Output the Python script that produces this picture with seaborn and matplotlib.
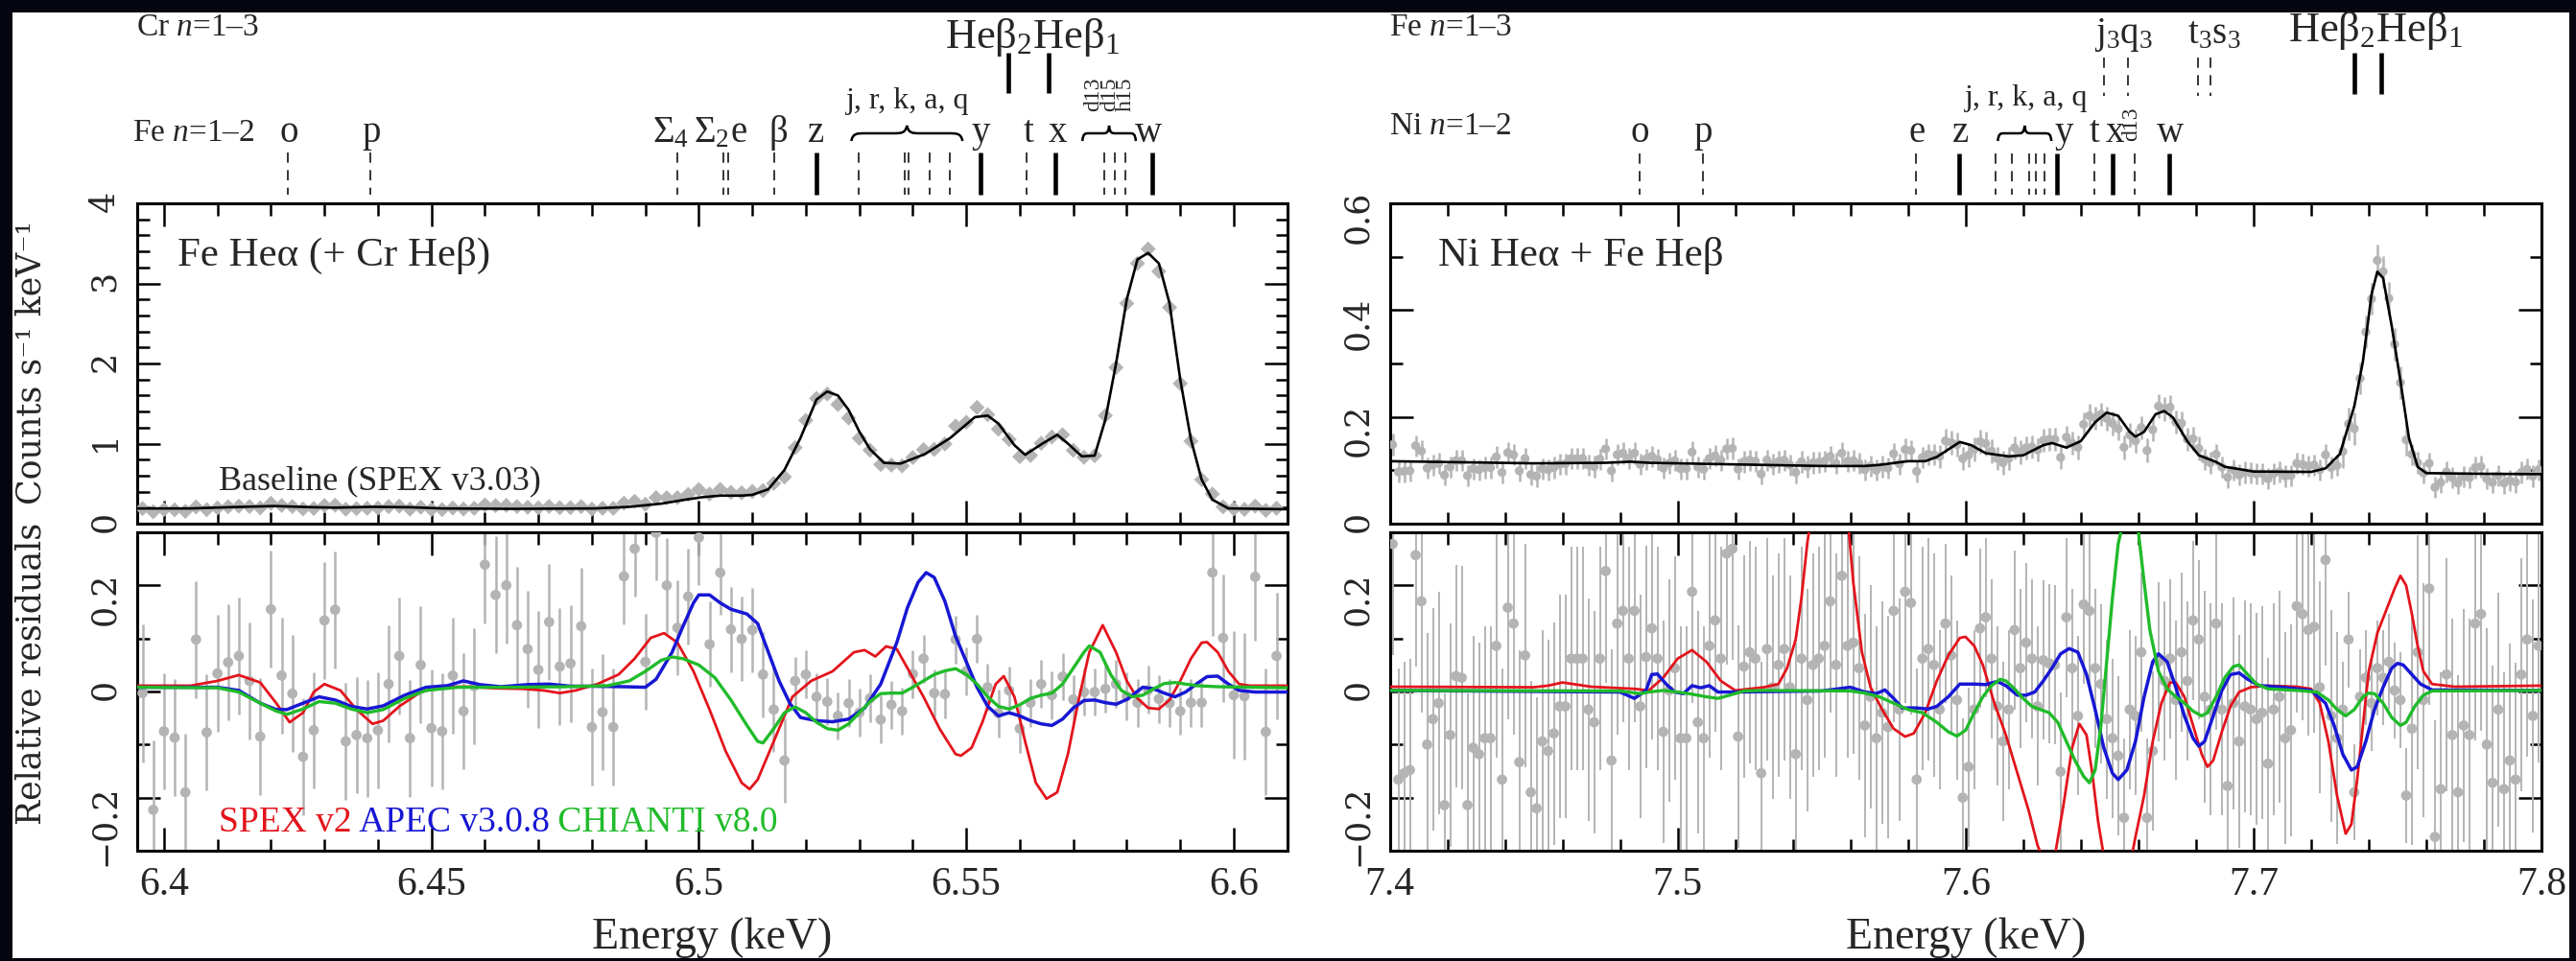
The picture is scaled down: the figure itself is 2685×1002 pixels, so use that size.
import numpy as np
import pandas as pd
import matplotlib
matplotlib.use("Agg")
import matplotlib.pyplot as plt
import matplotlib.transforms as mtransforms
from matplotlib.lines import Line2D
from matplotlib.patches import Rectangle, PathPatch
from matplotlib.path import Path
from matplotlib.ticker import MultipleLocator, FuncFormatter
import seaborn as sns

sns.set_theme(style="ticks")
plt.rcParams["font.family"] = ["Liberation Serif", "DejaVu Serif"]
plt.rcParams["mathtext.fontset"] = "custom"
plt.rcParams["mathtext.rm"] = "Liberation Serif"
plt.rcParams["mathtext.it"] = "Liberation Serif:italic"
plt.rcParams["mathtext.bf"] = "Liberation Serif:bold"

# ---------------- data: Fe He-alpha panel ----------------
fe_bin_start, fe_bin_width, fe_nbins = 6.396, 0.002, 107
fe_counts = [0.189, 0.148, 0.176, 0.173, 0.154, 0.209, 0.175, 0.196, 0.211, 0.219,
             0.214, 0.197, 0.254, 0.227, 0.214, 0.184, 0.190, 0.227, 0.231, 0.181,
             0.188, 0.192, 0.195, 0.213, 0.219, 0.182, 0.205, 0.177, 0.176, 0.196,
             0.183, 0.192, 0.235, 0.225, 0.228, 0.214, 0.205, 0.198, 0.215, 0.199,
             0.200, 0.213, 0.182, 0.192, 0.191, 0.256, 0.279, 0.243, 0.325, 0.324,
             0.325, 0.365, 0.426, 0.370, 0.428, 0.391, 0.385, 0.402, 0.413, 0.502,
             0.583, 0.949, 1.290, 1.564, 1.619, 1.488, 1.320, 1.066, 0.918, 0.739,
             0.731, 0.722, 0.826, 0.924, 0.927, 0.995, 1.219, 1.266, 1.451, 1.361,
             1.180, 1.052, 0.837, 0.852, 1.004, 1.082, 1.110, 0.916, 0.829, 0.849,
             1.350, 1.950, 2.750, 3.250, 3.430, 3.150, 2.700, 1.750, 1.030, 0.550,
             0.370, 0.210, 0.185, 0.178, 0.219, 0.166, 0.192]
fe_counts_err = [0.018] * 45 + [0.025] * 8 + [0.03] * 8 + [0.05] * 39 + [0.02] * 7
fe_resid = [-0.003, -0.223, -0.075, -0.087, -0.190, 0.098, -0.077, 0.034, 0.055, 0.067,
            0.020, -0.085, 0.155, 0.030, -0.004, -0.123, -0.073, 0.134, 0.154, -0.094,
            -0.082, -0.088, -0.073, 0.014, 0.067, -0.088, 0.050, -0.069, -0.075, 0.030,
            -0.037, 0.010, 0.239, 0.182, 0.200, 0.125, 0.080, 0.041, 0.131, 0.047,
            0.053, 0.123, -0.067, -0.039, -0.067, 0.217, 0.269, 0.056, 0.299, 0.200,
            0.120, 0.179, 0.290, 0.089, 0.224, 0.117, 0.099, 0.116, 0.032, -0.034,
            -0.130, 0.020, 0.032, -0.010, -0.019, -0.046, -0.022, -0.040, -0.013, -0.053,
            -0.025, -0.037, 0.033, 0.062, -0.003, -0.005, 0.098, 0.038, 0.099, 0.008,
            -0.041, 0.002, -0.070, -0.021, 0.014, -0.007, 0.028, -0.015, -0.001, -0.001,
            0.005, 0.014, -0.009, -0.021, 0.003, -0.014, -0.022, -0.037, -0.021, -0.021,
            0.224, 0.101, -0.007, -0.009, 0.216, -0.076, 0.067]
fe_resid_err = [0.13] * 2 + [0.11] * 43 + [0.09] * 8 + [0.08] * 8 + [0.045] * 39 + [0.12] * 7

fe_model_E = [6.395, 6.405, 6.412, 6.4205, 6.428, 6.432, 6.439, 6.446, 6.452, 6.465,
              6.4806, 6.487, 6.493, 6.4975, 6.5006, 6.504, 6.508, 6.510, 6.513, 6.516,
              6.519, 6.522, 6.524, 6.526, 6.528, 6.530, 6.532, 6.5346, 6.5377, 6.5423,
              6.547, 6.5516, 6.554, 6.556, 6.559, 6.561, 6.564, 6.567, 6.569, 6.5716,
              6.574, 6.576, 6.578, 6.580, 6.582, 6.584, 6.586, 6.588, 6.590, 6.592,
              6.594, 6.596, 6.599, 6.61]
fe_model_y = [0.19, 0.19, 0.205, 0.22, 0.205, 0.20, 0.21, 0.205, 0.19, 0.185,
              0.19, 0.21, 0.25, 0.30, 0.33, 0.35, 0.35, 0.36, 0.43, 0.67,
              1.07, 1.55, 1.65, 1.60, 1.42, 1.15, 0.93, 0.76, 0.75, 0.87,
              1.07, 1.33, 1.35, 1.25, 0.98, 0.86, 0.99, 1.11, 1.00, 0.84,
              0.85, 1.30, 2.00, 2.80, 3.30, 3.38, 3.25, 2.75, 1.80, 1.05,
              0.55, 0.30, 0.19, 0.18]

spex_fe_E = [6.395, 6.405, 6.41, 6.414, 6.418, 6.421, 6.4235, 6.426, 6.428, 6.43,
             6.433, 6.436, 6.439, 6.441, 6.444, 6.448, 6.452, 6.457, 6.462, 6.467,
             6.471, 6.474, 6.477, 6.481, 6.485, 6.488, 6.491, 6.4935, 6.496, 6.499,
             6.502, 6.505, 6.508, 6.5095, 6.511, 6.514, 6.5175, 6.521, 6.525, 6.529,
             6.531, 6.533, 6.535, 6.537, 6.539, 6.542, 6.545, 6.548, 6.549, 6.551,
             6.553, 6.5555, 6.557, 6.559, 6.561, 6.563, 6.565, 6.567, 6.569, 6.571,
             6.573, 6.5755, 6.578, 6.58, 6.582, 6.584, 6.586, 6.588, 6.59, 6.592,
             6.594, 6.595, 6.597, 6.599, 6.601, 6.603, 6.61]
spex_fe_r = [0.011, 0.011, 0.02, 0.031, 0.017, -0.022, -0.058, -0.04, -0.001, 0.014,
             0.002, -0.034, -0.061, -0.055, -0.028, -0.001, 0.009, 0.009, 0.006, 0.005,
             0.002, -0.003, 0.002, 0.014, 0.032, 0.062, 0.101, 0.11, 0.092, 0.038,
             -0.034, -0.112, -0.172, -0.184, -0.166, -0.094, -0.01, 0.02, 0.038, 0.074,
             0.078, 0.066, 0.085, 0.08, 0.044, -0.01, -0.07, -0.118, -0.121, -0.106,
             -0.058, 0.014, 0.029, -0.01, -0.094, -0.172, -0.202, -0.19, -0.118, -0.016,
             0.074, 0.125, 0.074, 0.02, -0.013, -0.031, -0.033, -0.016, 0.02, 0.062,
             0.092, 0.093, 0.074, 0.038, 0.014, 0.011, 0.011]
apec_fe_E = [6.395, 6.41, 6.414, 6.418, 6.421, 6.423, 6.426, 6.429, 6.432, 6.435,
             6.438, 6.441, 6.445, 6.449, 6.453, 6.456, 6.459, 6.463, 6.468, 6.472,
             6.476, 6.48, 6.486, 6.49, 6.492, 6.495, 6.497, 6.499, 6.5, 6.502,
             6.504, 6.506, 6.508, 6.509, 6.511, 6.513, 6.515, 6.517, 6.519, 6.522,
             6.525, 6.528, 6.531, 6.534, 6.537, 6.539, 6.541, 6.5425, 6.544, 6.546,
             6.548, 6.55, 6.552, 6.554, 6.556, 6.558, 6.56, 6.562, 6.564, 6.566,
             6.568, 6.57, 6.572, 6.574, 6.576, 6.578, 6.58, 6.583, 6.585, 6.587,
             6.589, 6.591, 6.593, 6.595, 6.597, 6.599, 6.601, 6.604, 6.61]
apec_fe_r = [0.008, 0.008, 0.002, -0.022, -0.034, -0.034, -0.022, -0.01, -0.016, -0.028,
             -0.033, -0.027, -0.007, 0.008, 0.011, 0.02, 0.013, 0.009, 0.013, 0.014,
             0.01, 0.01, 0.009, 0.008, 0.023, 0.074, 0.122, 0.167, 0.182, 0.182,
             0.167, 0.155, 0.149, 0.146, 0.128, 0.074, 0.02, -0.022, -0.049, -0.055,
             -0.057, -0.052, -0.031, 0.014, 0.092, 0.158, 0.206, 0.224, 0.215, 0.17,
             0.104, 0.056, 0.008, -0.028, -0.046, -0.04, -0.046, -0.055, -0.061, -0.064,
             -0.052, -0.031, -0.017, -0.016, -0.021, -0.024, -0.015, 0.008, 0.005, -0.003,
             -0.01, -0.001, 0.014, 0.028, 0.029, 0.014, 0.002, -0.001, -0.001]
chianti_fe_E = [6.395, 6.41, 6.414, 6.418, 6.421, 6.423, 6.426, 6.429, 6.432, 6.435,
                6.438, 6.441, 6.445, 6.449, 6.455, 6.465, 6.475, 6.483, 6.487, 6.49,
                6.493, 6.495, 6.497, 6.5, 6.503, 6.506, 6.509, 6.511, 6.512, 6.514,
                6.516, 6.518, 6.52, 6.522, 6.524, 6.526, 6.528, 6.53, 6.532, 6.534,
                6.536, 6.538, 6.54, 6.542, 6.544, 6.546, 6.548, 6.55, 6.552, 6.554,
                6.556, 6.558, 6.56, 6.562, 6.564, 6.566, 6.568, 6.57, 6.572, 6.573,
                6.575, 6.577, 6.579, 6.581, 6.583, 6.585, 6.587, 6.589, 6.591, 6.593,
                6.597, 6.61]
chianti_fe_r = [0.008, 0.007, -0.001, -0.022, -0.037, -0.043, -0.033, -0.019, -0.022, -0.033,
                -0.04, -0.034, -0.013, 0.002, 0.008, 0.008, 0.009, 0.011, 0.02, 0.038,
                0.059, 0.065, 0.062, 0.05, 0.026, -0.016, -0.064, -0.094, -0.097, -0.07,
                -0.04, -0.029, -0.04, -0.058, -0.07, -0.073, -0.061, -0.04, -0.019, -0.004,
                -0.003, -0.003, 0.008, 0.02, 0.032, 0.039, 0.043, 0.032, 0.014, -0.01,
                -0.028, -0.033, -0.025, -0.013, -0.007, -0.003, 0.014, 0.044, 0.074, 0.086,
                0.074, 0.032, 0.002, -0.01, -0.007, 0.005, 0.015, 0.017, 0.014, 0.011,
                0.009, 0.007]

# ---------------- data: Ni He-alpha panel ----------------
ni_bin_start, ni_bin_width, ni_nbins = 7.401, 0.002, 200
ni_counts = [0.148, 0.097, 0.098, 0.099, 0.146, 0.136, 0.104, 0.110, 0.113, 0.091,
             0.106, 0.118, 0.118, 0.090, 0.103, 0.101, 0.105, 0.105, 0.125, 0.096,
             0.133, 0.129, 0.099, 0.122, 0.092, 0.089, 0.103, 0.101, 0.105, 0.111,
             0.112, 0.122, 0.122, 0.122, 0.110, 0.107, 0.121, 0.140, 0.099, 0.129,
             0.132, 0.122, 0.132, 0.111, 0.121, 0.126, 0.120, 0.104, 0.113, 0.118,
             0.103, 0.103, 0.134, 0.106, 0.102, 0.122, 0.127, 0.119, 0.140, 0.141,
             0.102, 0.116, 0.119, 0.117, 0.093, 0.119, 0.111, 0.116, 0.119, 0.110,
             0.096, 0.116, 0.107, 0.114, 0.115, 0.117, 0.126, 0.113, 0.132, 0.117,
             0.118, 0.113, 0.101, 0.108, 0.100, 0.107, 0.104, 0.131, 0.112, 0.139,
             0.137, 0.098, 0.124, 0.130, 0.129, 0.126, 0.155, 0.152, 0.148, 0.122,
             0.128, 0.139, 0.154, 0.150, 0.136, 0.122, 0.114, 0.122, 0.142, 0.134,
             0.142, 0.144, 0.138, 0.156, 0.158, 0.158, 0.124, 0.162, 0.151, 0.143,
             0.186, 0.202, 0.198, 0.205, 0.197, 0.188, 0.178, 0.143, 0.166, 0.155,
             0.180, 0.137, 0.176, 0.220, 0.215, 0.218, 0.190, 0.188, 0.158, 0.159,
             0.141, 0.121, 0.114, 0.130, 0.106, 0.087, 0.101, 0.091, 0.096, 0.095,
             0.093, 0.094, 0.084, 0.094, 0.097, 0.089, 0.090, 0.113, 0.111, 0.108,
             0.110, 0.101, 0.129, 0.105, 0.109, 0.135, 0.187, 0.178, 0.272, 0.359,
             0.421, 0.493, 0.472, 0.422, 0.336, 0.264, 0.157, 0.130, 0.114, 0.095,
             0.113, 0.068, 0.077, 0.097, 0.086, 0.076, 0.088, 0.086, 0.105, 0.107,
             0.084, 0.077, 0.090, 0.076, 0.081, 0.078, 0.096, 0.102, 0.089, 0.101]
ni_counts_err = [0.02] * 95 + [0.022] * 46 + [0.02] * 24 + [0.03] * 12 + [0.02] * 23
ni_resid = [0.278, -0.166, -0.154, -0.148, 0.257, 0.17, -0.1, -0.052, -0.022, -0.214,
            -0.082, 0.029, 0.026, -0.214, -0.106, -0.118, -0.088, -0.088, 0.086, -0.166,
            0.158, 0.128, -0.133, 0.068, -0.19, -0.22, -0.094, -0.112, -0.079, -0.028,
            -0.028, 0.062, 0.062, 0.062, -0.034, -0.058, 0.062, 0.227, -0.13, 0.128,
            0.152, 0.062, 0.152, -0.028, 0.065, 0.119, 0.062, -0.076, 0.002, 0.044,
            -0.088, -0.088, 0.188, -0.058, -0.088, 0.086, 0.134, 0.062, 0.26, 0.269,
            -0.085, 0.047, 0.074, 0.062, -0.154, 0.08, 0.008, 0.05, 0.08, 0.008,
            -0.118, 0.062, -0.016, 0.05, 0.062, 0.086, 0.17, 0.05, 0.218, 0.086,
            0.092, 0.044, -0.064, -0.01, -0.088, -0.04, -0.067, 0.152, -0.034, 0.188,
            0.167, -0.166, 0.062, 0.08, 0.05, -0.034, 0.128, 0.068, -0.016, -0.2,
            -0.142, -0.034, 0.119, 0.14, 0.062, -0.028, -0.094, -0.034, 0.116, 0.044,
            0.092, 0.062, -0.028, 0.059, 0.053, 0.05, -0.151, 0.14, 0.044, -0.046,
            0.164, 0.152, 0.044, 0.014, -0.052, -0.088, -0.121, -0.238, -0.034, -0.046,
            0.074, -0.238, -0.112, 0.056, 0.02, 0.062, -0.016, 0.074, 0.02, 0.134,
            0.098, -0.01, -0.034, 0.128, -0.034, -0.178, -0.022, -0.094, -0.028, -0.034,
            -0.052, -0.04, -0.136, -0.034, -0.01, -0.088, -0.073, 0.161, 0.146, 0.116,
            0.122, 0.008, 0.248, -0.046, -0.088, -0.034, 0.098, -0.19, -0.01, 0.026,
            -0.022, 0.044, 0.026, 0.056, 0.002, -0.016, -0.196, -0.07, 0.074, -0.016,
            0.194, -0.274, -0.184, 0.032, -0.082, -0.19, -0.064, -0.082, 0.128, 0.146,
            -0.1, -0.172, -0.034, -0.184, -0.13, -0.166, 0.032, 0.098, -0.046, 0.086]
ni_resid_err = [0.21] * 95 + [0.15] * 46 + [0.2] * 24 + [0.09] * 12 + [0.22] * 23

ni_model_E = [7.40, 7.45, 7.475, 7.4835, 7.49, 7.50, 7.52, 7.55, 7.565, 7.57,
              7.58, 7.586, 7.59, 7.595, 7.598, 7.602, 7.607, 7.615, 7.62, 7.627,
              7.63, 7.635, 7.64, 7.645, 7.649, 7.653, 7.657, 7.659, 7.662, 7.666,
              7.669, 7.672, 7.677, 7.681, 7.687, 7.69, 7.70, 7.72, 7.725, 7.73,
              7.735, 7.738, 7.741, 7.743, 7.745, 7.748, 7.751, 7.754, 7.757, 7.76,
              7.78, 7.80]
ni_model_y = [0.117, 0.113, 0.114, 0.116, 0.114, 0.113, 0.111, 0.108, 0.108, 0.110,
              0.117, 0.117, 0.125, 0.1425, 0.153, 0.147, 0.132, 0.126, 0.128, 0.147,
              0.151, 0.1425, 0.1545, 0.19, 0.208, 0.202, 0.172, 0.163, 0.172, 0.205,
              0.211, 0.199, 0.1545, 0.128, 0.1156, 0.1066, 0.0976, 0.097, 0.1036, 0.1305,
              0.22, 0.304, 0.43, 0.472, 0.46, 0.37, 0.268, 0.16, 0.1066, 0.0946,
              0.0934, 0.0928]

spex_ni_E = [7.40, 7.45, 7.455, 7.46, 7.465, 7.47, 7.485, 7.49, 7.495, 7.5,
             7.505, 7.51, 7.515, 7.52, 7.525, 7.53, 7.535, 7.538, 7.541, 7.543,
             7.545, 7.548, 7.552, 7.556, 7.559, 7.561, 7.564, 7.567, 7.571, 7.575,
             7.579, 7.582, 7.586, 7.59, 7.594, 7.598, 7.6, 7.603, 7.606, 7.61,
             7.614, 7.618, 7.622, 7.625, 7.628, 7.631, 7.634, 7.637, 7.6395, 7.642,
             7.644, 7.646, 7.648, 7.65, 7.654, 7.657, 7.659, 7.662, 7.665, 7.668,
             7.671, 7.673, 7.676, 7.679, 7.682, 7.684, 7.686, 7.689, 7.692, 7.695,
             7.699, 7.705, 7.715, 7.72, 7.723, 7.726, 7.729, 7.732, 7.734, 7.736,
             7.738, 7.74, 7.743, 7.746, 7.749, 7.751, 7.753, 7.755, 7.757, 7.759,
             7.762, 7.77, 7.8]
spex_ni_r = [0.009, 0.008, 0.011, 0.017, 0.013, 0.009, 0.005, 0.002, 0.026, 0.062,
             0.078, 0.056, 0.02, 0.002, 0.005, 0.008, 0.014, 0.044, 0.098, 0.176,
             0.278, 0.39, 0.42, 0.37, 0.33, 0.206, 0.074, 0.008, -0.034, -0.07,
             -0.085, -0.079, -0.04, 0.02, 0.068, 0.101, 0.103, 0.086, 0.05, -0.022,
             -0.082, -0.154, -0.226, -0.29, -0.33, -0.31, -0.214, -0.106, -0.061, -0.082,
             -0.154, -0.244, -0.31, -0.36, -0.39, -0.33, -0.274, -0.196, -0.094, -0.022,
             0.017, 0.017, -0.01, -0.064, -0.118, -0.142, -0.13, -0.076, -0.028, -0.001,
             0.008, 0.011, 0.009, 0.005, -0.022, -0.094, -0.196, -0.268, -0.25, -0.166,
             -0.064, 0.038, 0.11, 0.152, 0.194, 0.218, 0.2, 0.146, 0.086, 0.038,
             0.014, 0.009, 0.011]
apec_ni_E = [7.40, 7.48, 7.485, 7.489, 7.491, 7.493, 7.496, 7.499, 7.502, 7.505,
             7.508, 7.511, 7.514, 7.52, 7.55, 7.56, 7.565, 7.569, 7.572, 7.575,
             7.578, 7.583, 7.587, 7.59, 7.594, 7.598, 7.603, 7.607, 7.611, 7.614,
             7.618, 7.621, 7.624, 7.627, 7.63, 7.633, 7.636, 7.639, 7.642, 7.645,
             7.648, 7.651, 7.653, 7.656, 7.659, 7.662, 7.665, 7.667, 7.67, 7.673,
             7.676, 7.679, 7.681, 7.683, 7.686, 7.689, 7.692, 7.695, 7.698, 7.702,
             7.71, 7.72, 7.725, 7.728, 7.731, 7.734, 7.736, 7.739, 7.742, 7.745,
             7.748, 7.75, 7.752, 7.755, 7.758, 7.762, 7.8]
apec_ni_r = [0.002, -0.001, -0.013, 0.002, 0.032, 0.033, 0.014, -0.001, -0.004, 0.011,
             0.007, 0.011, -0.001, -0.001, 0.001, 0.008, -0.001, -0.004, 0.003, -0.013,
             -0.031, -0.031, -0.033, -0.028, -0.01, 0.014, 0.014, 0.013, 0.019, 0.011,
             -0.007, -0.007, -0.001, 0.02, 0.044, 0.071, 0.081, 0.074, 0.032, -0.034,
             -0.106, -0.154, -0.166, -0.148, -0.094, -0.01, 0.056, 0.071, 0.056, 0.008,
             -0.046, -0.088, -0.103, -0.094, -0.046, 0.002, 0.032, 0.035, 0.023, 0.011,
             0.008, 0.002, -0.022, -0.064, -0.118, -0.148, -0.142, -0.094, -0.034, 0.008,
             0.044, 0.053, 0.05, 0.032, 0.014, 0.003, 0.002]
chianti_ni_E = [7.40, 7.48, 7.487, 7.49, 7.495, 7.5, 7.505, 7.51, 7.514, 7.518,
                7.523, 7.53, 7.56, 7.565, 7.57, 7.575, 7.58, 7.585, 7.59, 7.594,
                7.597, 7.6, 7.603, 7.606, 7.609, 7.612, 7.614, 7.617, 7.62, 7.623,
                7.626, 7.629, 7.632, 7.635, 7.638, 7.641, 7.643, 7.645, 7.647, 7.649,
                7.651, 7.653, 7.655, 7.658, 7.66, 7.662, 7.664, 7.667, 7.67, 7.673,
                7.676, 7.679, 7.682, 7.684, 7.687, 7.69, 7.693, 7.695, 7.698, 7.701,
                7.705, 7.715, 7.722, 7.726, 7.729, 7.732, 7.735, 7.738, 7.74, 7.742,
                7.745, 7.748, 7.751, 7.753, 7.756, 7.759, 7.762, 7.8]
chianti_ni_r = [0.002, 0.001, -0.004, -0.001, 0.002, -0.001, -0.005, -0.01, -0.013, -0.007,
                0.001, 0.002, 0.001, -0.003, -0.01, -0.022, -0.034, -0.04, -0.058, -0.076,
                -0.084, -0.073, -0.04, -0.01, 0.011, 0.023, 0.02, 0.005, -0.013, -0.028,
                -0.034, -0.04, -0.058, -0.094, -0.13, -0.16, -0.172, -0.148, -0.064, 0.056,
                0.176, 0.278, 0.326, 0.338, 0.302, 0.206, 0.116, 0.038, 0.005, -0.01,
                -0.022, -0.037, -0.046, -0.04, -0.01, 0.026, 0.047, 0.05, 0.032, 0.014,
                0.005, 0.002, -0.001, -0.016, -0.034, -0.046, -0.034, -0.01, -0.003, -0.004,
                -0.022, -0.049, -0.064, -0.058, -0.028, -0.007, 0.001, 0.002]

# ---------------- line identifications ----------------
fe_line_E = [6.4232, 6.4386, 6.4960, 6.5046, 6.5055, 6.5141, 6.5219, 6.5299, 6.5385, 6.5392,
             6.5431, 6.5470, 6.5527, 6.5613, 6.5667, 6.5758, 6.5778, 6.5798, 6.5848]
fe_line_kind = ["d", "d", "d", "d", "d", "d", "s", "d", "d", "d",
                "d", "d", "s", "d", "s", "d", "d", "d", "s"]
fe_label_text = ["o", "p", "Σ$_\\mathrm{4}$", "Σ$_\\mathrm{2}$", "e", "β", "z", "y", "t", "x", "w"]
fe_label_E = [6.4234, 6.4388, 6.4947, 6.5023, 6.5075, 6.5148, 6.5219, 6.5527, 6.5616, 6.5670, 6.5840]
cr_heb_E = [6.5578, 6.5654]

ni_line_E = [7.4869, 7.5088, 7.5828, 7.5976, 7.6104, 7.6160, 7.6220, 7.6245, 7.6274, 7.6319,
             7.6447, 7.6509, 7.6586, 7.6708]
ni_line_kind = ["d", "d", "d", "s", "d", "d", "d", "d", "d", "s", "d", "s", "d", "s"]
ni_label_text = ["o", "p", "e", "z", "y", "t", "x", "w"]
ni_label_E = [7.4869, 7.5088, 7.5832, 7.5984, 7.6340, 7.6447, 7.6517, 7.6711]
fe13_line_E = [7.6482, 7.6565, 7.6806, 7.6849]
fe_heb_E = [7.7351, 7.7445]

GRAY = "#b4b4b4"
RED, BLUE, GREEN = "#e3141c", "#1717d4", "#20bb2a"

# ---------------- figure ----------------
W, H = 2685, 1002
fig = plt.figure(figsize=(W / 100, H / 100), dpi=100)
fig.patch.set_facecolor("#05050f")
fig.add_artist(Rectangle((13 / W, 3 / H), (2678 - 13) / W, (H - 16) / H,
                         transform=fig.transFigure, facecolor="white",
                         edgecolor="none", zorder=-10))


def fx(px):
    return px / W


def fy(py):
    return 1 - py / H


axUL = fig.add_axes([fx(143), fy(546), fx(1341.7) - fx(143), fy(212) - fy(546)])
axLL = fig.add_axes([fx(143), fy(887), fx(1341.7) - fx(143), fy(555) - fy(887)])
axUR = fig.add_axes([fx(1448.5), fy(546), fx(2649) - fx(1448.5), fy(212) - fy(546)])
axLR = fig.add_axes([fx(1448.5), fy(887), fx(2649) - fx(1448.5), fy(555) - fy(887)])

E_fe = np.round(fe_bin_start + fe_bin_width * np.arange(fe_nbins), 4)
E_ni = np.round(ni_bin_start + ni_bin_width * np.arange(ni_nbins), 4)

df_fe = pd.DataFrame({"E": E_fe, "counts": fe_counts, "cerr": fe_counts_err,
                      "resid": fe_resid, "rerr": fe_resid_err})
df_ni = pd.DataFrame({"E": E_ni, "counts": ni_counts, "cerr": ni_counts_err,
                      "resid": ni_resid, "rerr": ni_resid_err})

# upper panels
for ax, df, mE, my, mk, ms in [(axUL, df_fe, fe_model_E, fe_model_y, "D", 65),
                               (axUR, df_ni, ni_model_E, ni_model_y, "o", 45)]:
    ax.errorbar(df["E"], df["counts"], yerr=df["cerr"], fmt="none",
                ecolor=GRAY, elinewidth=1.8, zorder=2)
    sns.scatterplot(data=df, x="E", y="counts", marker=mk, s=ms, color=GRAY,
                    edgecolor="none", ax=ax, zorder=3, legend=False)
    sns.lineplot(x=mE, y=my, color="black", lw=1.9, ax=ax, zorder=4,
                 estimator=None, legend=False)

# lower panels
for ax, df, ew, curves in [(axLL, df_fe, 1.8, [(spex_fe_E, spex_fe_r, RED, 2.0),
                                              (apec_fe_E, apec_fe_r, BLUE, 2.5),
                                              (chianti_fe_E, chianti_fe_r, GREEN, 2.4)]),
                           (axLR, df_ni, 1.4, [(spex_ni_E, spex_ni_r, RED, 2.0),
                                              (apec_ni_E, apec_ni_r, BLUE, 2.5),
                                              (chianti_ni_E, chianti_ni_r, GREEN, 2.4)])]:
    ax.errorbar(df["E"], df["resid"], yerr=df["rerr"], fmt="none",
                ecolor=GRAY, elinewidth=ew, zorder=2)
    sns.scatterplot(data=df, x="E", y="resid", marker="o", s=60, color=GRAY,
                    edgecolor="none", ax=ax, zorder=3, legend=False)
    for cE, cr, col, lw in curves:
        sns.lineplot(x=cE, y=cr, color=col, lw=lw, ax=ax, zorder=5,
                     estimator=None, legend=False)


def yfmt(v, p):
    if abs(v) < 1e-9:
        return "0"
    return ("%g" % v).replace("-", "\u2212")


def style(ax, xlim, ylim, xmaj, xmin, ymaj, ymin, xlabels):
    ax.set_xlim(*xlim)
    ax.set_ylim(*ylim)
    ax.set_facecolor("white")
    ax.xaxis.set_major_locator(MultipleLocator(xmaj))
    ax.xaxis.set_minor_locator(MultipleLocator(xmin))
    ax.yaxis.set_major_locator(MultipleLocator(ymaj))
    ax.yaxis.set_minor_locator(MultipleLocator(ymin))
    ax.yaxis.set_major_formatter(FuncFormatter(yfmt))
    ax.xaxis.set_major_formatter(FuncFormatter(lambda v, p: "%g" % round(v, 3)))
    ax.tick_params(which="both", direction="in", top=True, right=True,
                   width=1.8, color="black")
    ax.tick_params(which="major", length=17)
    ax.tick_params(which="minor", length=9)
    ax.tick_params(axis="x", labelsize=30, pad=12, labelbottom=xlabels)
    ax.tick_params(axis="y", labelsize=25, pad=12, labelrotation=90,
                   labelfontfamily="DejaVu Serif")
    for sp in ax.spines.values():
        sp.set_linewidth(2.2)
        sp.set_color("black")
    ax.set_xlabel("")
    ax.set_ylabel("")
    if xlabels:
        ax.set_xlabel("Energy (keV)", fontsize=33, labelpad=10)


style(axUL, (6.395, 6.61), (0, 4), 0.05, 0.01, 1, 0.2, False)
style(axLL, (6.395, 6.61), (-0.3, 0.3), 0.05, 0.01, 0.2, 0.1, True)
style(axUR, (7.4, 7.8), (0, 0.6), 0.1, 0.02, 0.2, 0.1, False)
style(axLR, (7.4, 7.8), (-0.3, 0.3), 0.1, 0.02, 0.2, 0.1, True)

# y labels
fig.text(fx(33), fy(378), "Counts s\u207b\u00b9 keV\u207b\u00b9", rotation=90,
         ha="center", va="center", fontsize=25, family="DejaVu Serif")
fig.text(fx(33), fy(702), "Relative residuals", rotation=90,
         ha="center", va="center", fontsize=25, family="DejaVu Serif")

# in-panel texts
fig.text(fx(185), fy(277), "Fe Heα (+ Cr Heβ)", fontsize=31, va="baseline")
fig.text(fx(228), fy(510), "Baseline (SPEX v3.03)", fontsize=26, va="baseline")
fig.text(fx(1499), fy(277), "Ni Heα + Fe Heβ", fontsize=31, va="baseline")
t1 = fig.text(fx(228), fy(867), "SPEX v2", fontsize=27, va="baseline", color=RED)
t2 = axLL.annotate(" APEC v3.0.8", xy=(1, 0), xycoords=t1, fontsize=27,
                   va="bottom", ha="left", color=BLUE)
t3 = axLL.annotate(" CHIANTI v8.0", xy=(1, 0), xycoords=t2, fontsize=27,
                   va="bottom", ha="left", color=GREEN)


# ---------------- annotation helpers ----------------
def btr(ax):
    return mtransforms.blended_transform_factory(ax.transData, fig.transFigure)


def marks(ax, Es, kinds, y0, y1):
    tr = btr(ax)
    for E, k in zip(Es, kinds):
        if k == "s":
            ln = Line2D([E, E], [fy(y0), fy(y1)], transform=tr, color="black",
                        lw=3.3, solid_capstyle="butt")
        else:
            ln = Line2D([E, E], [fy(y0), fy(y1)], transform=tr, color="black",
                        lw=1.1, ls=(0, (7, 5)))
        fig.add_artist(ln)


def labels(ax, Es, texts, py, size, **kw):
    tr = btr(ax)
    for E, s in zip(Es, texts):
        fig.text(E, fy(py), s, transform=tr, fontsize=size, ha="center",
                 va="baseline", **kw)


def brace(ax, x0, x1, y_end, y_mid, y_tip):
    tr = btr(ax)
    w = (x1 - x0) / 2.0
    xm = x0 + w
    ye, ym, yt = fy(y_end), fy(y_mid), fy(y_tip)
    verts = [(x0, ye),
             (x0 + 0.03 * w, ym), (x0 + 0.1 * w, ym), (x0 + 0.25 * w, ym),
             (xm - 0.25 * w, ym),
             (xm - 0.1 * w, ym), (xm - 0.03 * w, ym), (xm, yt),
             (xm + 0.03 * w, ym), (xm + 0.1 * w, ym), (xm + 0.25 * w, ym),
             (x1 - 0.25 * w, ym),
             (x1 - 0.1 * w, ym), (x1 - 0.03 * w, ym), (x1, ye)]
    codes = [Path.MOVETO, Path.CURVE4, Path.CURVE4, Path.CURVE4, Path.LINETO,
             Path.CURVE4, Path.CURVE4, Path.CURVE4, Path.CURVE4, Path.CURVE4,
             Path.CURVE4, Path.LINETO, Path.CURVE4, Path.CURVE4, Path.CURVE4]
    fig.add_artist(PathPatch(Path(verts, codes), transform=tr, facecolor="none",
                             edgecolor="black", lw=1.8))


# left annotations
fig.text(fx(142), fy(37), "Cr $\\mathit{n}$=1–3", fontsize=24, va="baseline")
fig.text(fx(138), fy(147), "Fe $\\mathit{n}$=1–2", fontsize=24, va="baseline")
marks(axUL, fe_line_E, fe_line_kind, 159, 203)
marks(axUL, cr_heb_E, ["s", "s"], 55, 97)
labels(axUL, fe_label_E, fe_label_text, 148, 28)
labels(axUL, [6.5624], ["Heβ$_\\mathrm{2}$Heβ$_\\mathrm{1}$"], 50, 32)
labels(axUL, [6.5390], ["j, r, k, a, q"], 113, 23)
brace(axUL, 6.5285, 6.5493, 147, 139, 131)
brace(axUL, 6.5717, 6.5817, 147, 139, 131)
for E, s in zip([6.5737, 6.5768, 6.5798], ["d13", "d15", "h15"]):
    fig.text(E, fy(98), s, transform=btr(axUL), fontsize=17, rotation=90,
             ha="center", va="center")

# right annotations
fig.text(fx(1448), fy(37), "Fe $\\mathit{n}$=1–3", fontsize=24, va="baseline")
fig.text(fx(1448), fy(140), "Ni $\\mathit{n}$=1–2", fontsize=24, va="baseline")
marks(axUR, ni_line_E, ni_line_kind, 160, 203)
marks(axUR, fe13_line_E, ["d"] * 4, 60, 100)
marks(axUR, fe_heb_E, ["s", "s"], 55, 98)
labels(axUR, ni_label_E, ni_label_text, 148, 28)
labels(axUR, [7.6550], ["j$_\\mathrm{3}$q$_\\mathrm{3}$"], 45, 28)
labels(axUR, [7.6863], ["t$_\\mathrm{3}$s$_\\mathrm{3}$"], 45, 28)
labels(axUR, [7.7424], ["Heβ$_\\mathrm{2}$Heβ$_\\mathrm{1}$"], 43, 32)
labels(axUR, [7.6211], ["j, r, k, a, q"], 110, 23)
brace(axUR, 7.6112, 7.6298, 147, 139, 131)
fig.text(7.6577, fy(129), "d13", transform=btr(axUR), fontsize=17, rotation=90,
         ha="center", va="center")

fig.savefig("out.png", dpi=100, facecolor=fig.get_facecolor())
